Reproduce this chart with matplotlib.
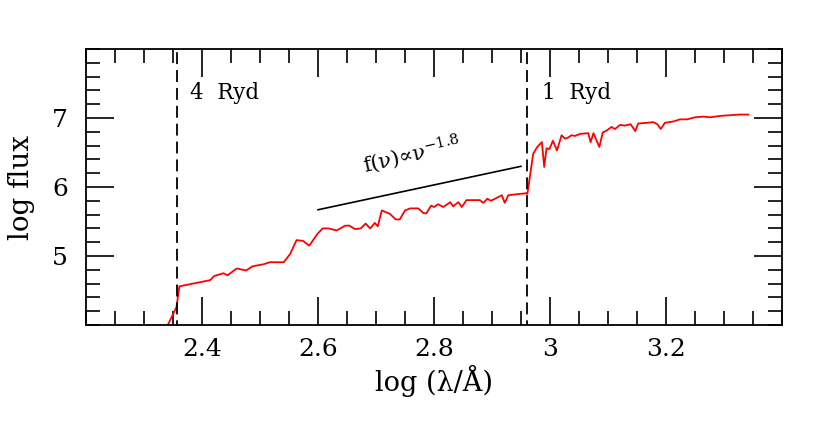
import numpy as np
import matplotlib
matplotlib.use("Agg")
import matplotlib.pyplot as plt
from matplotlib.ticker import MultipleLocator

# log wavelength (Angstrom) and log flux of the spectrum
log_lam = [2.341, 2.356, 2.361, 2.414, 2.421, 2.437, 2.444, 2.460, 2.476, 2.487,
           2.506, 2.517, 2.541, 2.552, 2.563, 2.574, 2.585, 2.599, 2.608, 2.618,
           2.632, 2.647, 2.654, 2.664, 2.674, 2.682, 2.690, 2.698, 2.703, 2.710,
           2.724, 2.734, 2.741, 2.750, 2.759, 2.773, 2.782, 2.787, 2.795, 2.800,
           2.807, 2.816, 2.828, 2.833, 2.842, 2.848, 2.856, 2.879, 2.885, 2.892,
           2.898, 2.917, 2.922, 2.928, 2.937, 2.960,
           2.961, 2.966, 2.971, 2.978, 2.986, 2.990, 2.994, 2.999, 3.005, 3.012,
           3.020, 3.026, 3.032, 3.037, 3.043, 3.052, 3.066, 3.070, 3.075, 3.085,
           3.091, 3.098, 3.106, 3.112, 3.121, 3.129, 3.139, 3.147, 3.152, 3.167,
           3.178, 3.185, 3.191, 3.198, 3.213, 3.224, 3.236, 3.250, 3.264, 3.276,
           3.293, 3.310, 3.327, 3.342]
log_flux = [4.00, 4.26, 4.56, 4.65, 4.71, 4.75, 4.72, 4.82, 4.79, 4.85,
            4.88, 4.91, 4.91, 5.03, 5.23, 5.22, 5.15, 5.32, 5.40, 5.40,
            5.37, 5.44, 5.44, 5.39, 5.40, 5.47, 5.40, 5.48, 5.43, 5.66,
            5.61, 5.53, 5.53, 5.66, 5.69, 5.69, 5.62, 5.62, 5.73, 5.71,
            5.75, 5.71, 5.78, 5.72, 5.78, 5.71, 5.81, 5.81, 5.77, 5.83,
            5.80, 5.88, 5.77, 5.88, 5.89, 5.91,
            5.90, 6.19, 6.48, 6.58, 6.65, 6.29, 6.56, 6.55, 6.67, 6.53,
            6.75, 6.70, 6.72, 6.75, 6.74, 6.77, 6.78, 6.65, 6.78, 6.58,
            6.79, 6.82, 6.87, 6.84, 6.90, 6.89, 6.91, 6.81, 6.92, 6.93,
            6.94, 6.91, 6.84, 6.93, 6.95, 6.98, 6.98, 7.01, 7.02, 7.01,
            7.03, 7.04, 7.05, 7.05]

# Rydberg edges (log lambda)
edge_pos = [2.3576, 2.9597]
edge_labels = ["4  Ryd", "1  Ryd"]

# power-law reference line
pl_x = [2.60, 2.95]
pl_slope = 1.8
pl_y0 = 5.67
pl_label = r"f(ν)∝ν$^{-1.8}$"

xlim = (2.2, 3.4)
ylim = (4.0, 8.0)
xticks = [2.4, 2.6, 2.8, 3.0, 3.2]
xtick_labels = ["2.4", "2.6", "2.8", "3", "3.2"]
yticks = [5, 6, 7]
ytick_labels = ["5", "6", "7"]

plt.rcParams['font.family'] = ['DejaVu Serif']
plt.rcParams['mathtext.fontset'] = 'dejavuserif'

fig = plt.figure(figsize=(8.3, 4.26), dpi=100)
ax = fig.add_axes([86/830, 1 - 325/426, (782-86)/830, (325-49)/426])

ax.plot(log_lam, log_flux, color='red', lw=1.3)
for xe in edge_pos:
    ax.axvline(xe, color='black', lw=1.3, ls=(4, (6.6, 3.3)))
pl_yy = [pl_y0 + pl_slope * (x - pl_x[0]) for x in pl_x]
ax.plot(pl_x, pl_yy, color='black', lw=1.2)

ax.text(2.379, 7.28, edge_labels[0], fontsize=15.5, va='baseline', ha='left')
ax.text(2.986, 7.28, edge_labels[1], fontsize=15.5, va='baseline', ha='left')
ax.text(2.681, 6.21, pl_label, fontsize=15, rotation=13, ha='left', va='baseline',
        rotation_mode='anchor')

ax.set_xlim(*xlim)
ax.set_ylim(*ylim)
ax.set_xticks(xticks)
ax.set_xticklabels(xtick_labels)
ax.set_yticks(yticks)
ax.set_yticklabels(ytick_labels)
ax.xaxis.set_minor_locator(MultipleLocator(0.05))
ax.yaxis.set_minor_locator(MultipleLocator(0.2))
ax.tick_params(which='both', direction='in', top=True, right=True, width=1.2,
               labelsize=18)
ax.tick_params(axis='x', which='both', pad=9)
ax.tick_params(axis='y', which='both', pad=13)
ax.tick_params(which='major', length=20)
ax.tick_params(which='minor', length=10)
for s in ax.spines.values():
    s.set_linewidth(1.3)

ax.set_xlabel(r"log (λ/Å)", fontsize=19.5, labelpad=3)
ax.set_ylabel("log flux", fontsize=20, labelpad=12)

fig.savefig("out.png", dpi=100)
